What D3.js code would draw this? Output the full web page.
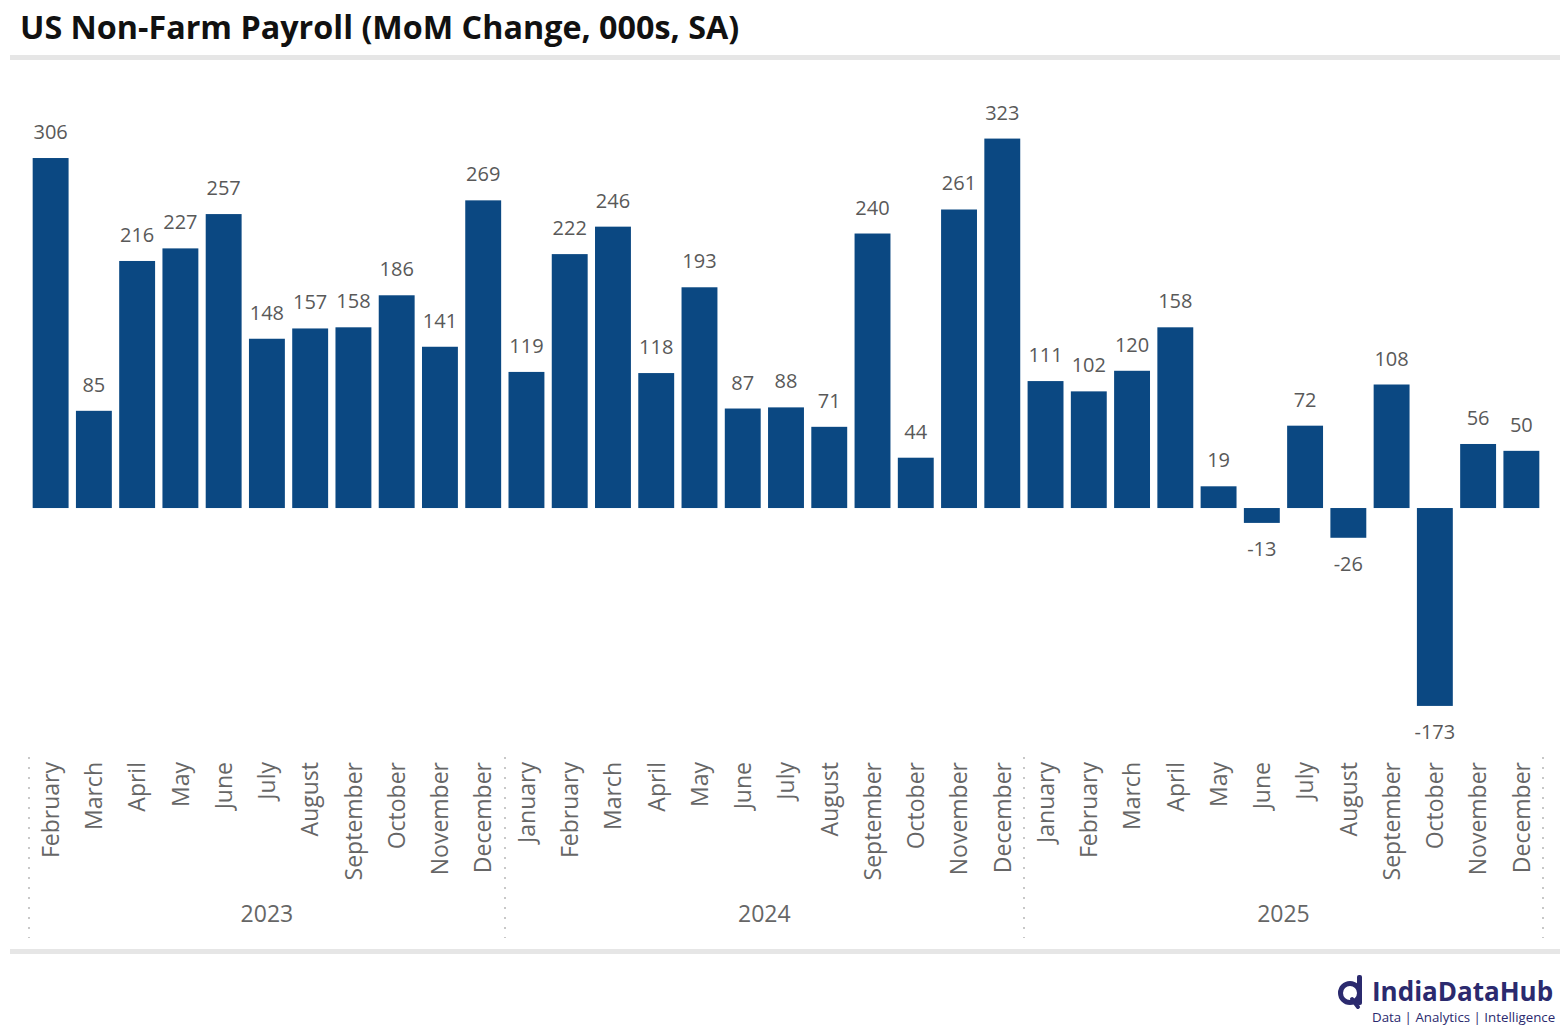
<!DOCTYPE html>
<html>
<head>
<meta charset="utf-8">
<script src="https://cdn.jsdelivr.net/npm/d3@7"></script>
<style>
  body { margin: 0; background: #fff; }
  svg { display: block; font-family: "Open Sans", "Noto Sans", sans-serif; }
</style>
</head>
<body>
<div id="chart"></div>
<script>
// data
const years = ["2023", "2024", "2025"];
const months = [
  "February", "March", "April", "May", "June", "July", "August", "September", "October", "November", "December",
  "January", "February", "March", "April", "May", "June", "July", "August", "September", "October", "November", "December",
  "January", "February", "March", "April", "May", "June", "July", "August", "September", "October", "November", "December"
];
const monthYear = [
  "2023", "2023", "2023", "2023", "2023", "2023", "2023", "2023", "2023", "2023", "2023",
  "2024", "2024", "2024", "2024", "2024", "2024", "2024", "2024", "2024", "2024", "2024", "2024",
  "2025", "2025", "2025", "2025", "2025", "2025", "2025", "2025", "2025", "2025", "2025", "2025"
];
const payroll = [
  306, 85, 216, 227, 257, 148, 157, 158, 186, 141, 269,
  119, 222, 246, 118, 193, 87, 88, 71, 240, 44, 261, 323,
  111, 102, 120, 158, 19, -13, 72, -26, 108, -173, 56, 50
];

const W = 1568, H = 1033;
const barColor = "#0b4882";

const svg = d3.select("#chart").append("svg")
  .attr("width", W)
  .attr("height", H);

// title + grey rules
svg.append("text")
  .attr("x", 20)
  .attr("y", 39)
  .style("font-size", "32.3px")
  .style("font-weight", "700")
  .attr("fill", "#111")
  .text("US Non-Farm Payroll (MoM Change, 000s, SA)");

svg.append("rect").attr("x", 10).attr("y", 55).attr("width", 1550).attr("height", 5).attr("fill", "#e6e6e6");
svg.append("rect").attr("x", 10).attr("y", 949).attr("width", 1550).attr("height", 5).attr("fill", "#e6e6e6");

// scales
const idx = d3.range(payroll.length);
const x = d3.scaleBand()
  .domain(idx)
  .range([29, 1543])
  .paddingInner(0.17)
  .paddingOuter(0.085);

const y = d3.scaleLinear()
  .domain([-200, 350])
  .range([736.8, 107.7]);

// bars
svg.append("g").selectAll("rect")
  .data(idx)
  .join("rect")
    .attr("x", i => x(i))
    .attr("width", x.bandwidth())
    .attr("y", i => y(Math.max(0, payroll[i])))
    .attr("height", i => Math.abs(y(payroll[i]) - y(0)))
    .attr("fill", barColor);

// value labels
svg.append("g").selectAll("text")
  .data(idx)
  .join("text")
    .attr("x", i => x(i) + x.bandwidth() / 2)
    .attr("y", i => payroll[i] >= 0 ? y(payroll[i]) - 19 : y(payroll[i]) + 33)
    .attr("text-anchor", "middle")
    .attr("fill", "#595959")
    .style("font-size", "20px")
    .text(i => payroll[i]);

// month labels (rotated)
svg.append("g").selectAll("text")
  .data(idx)
  .join("text")
    .attr("transform", i => `translate(${x(i) + x.bandwidth() / 2},762) rotate(-90)`)
    .attr("text-anchor", "end")
    .attr("dy", "0.36em")
    .attr("fill", "#666")
    .style("font-size", "23px")
    .text(i => months[i]);

// year groups: dotted separators + labels
const bounds = [];
years.forEach(yr => {
  const members = idx.filter(i => monthYear[i] === yr);
  const x0 = x(members[0]) - x.step() * x.paddingInner() / 2;
  const x1 = x(members[members.length - 1]) + x.bandwidth() + x.step() * x.paddingInner() / 2;
  bounds.push(x0, x1);
  svg.append("text")
    .attr("x", (x0 + x1) / 2)
    .attr("y", 922)
    .attr("text-anchor", "middle")
    .attr("fill", "#666")
    .style("font-size", "23px")
    .text(yr);
});

Array.from(new Set(bounds.map(b => Math.round(b)))).forEach(bx => {
  svg.append("line")
    .attr("x1", bx).attr("x2", bx)
    .attr("y1", 757).attr("y2", 938)
    .attr("stroke", "#c8c8c8")
    .attr("stroke-width", 2)
    .attr("stroke-dasharray", "2,8");
});

// logo
const logo = svg.append("g").attr("transform", "translate(1336,975)");
logo.append("circle")
  .attr("cx", 14).attr("cy", 18).attr("r", 9.5)
  .attr("fill", "none").attr("stroke", "#2b2a6e").attr("stroke-width", 5);
logo.append("rect")
  .attr("x", 21).attr("y", 0).attr("width", 5).attr("height", 30).attr("rx", 2)
  .attr("fill", "#2b2a6e");
logo.append("line")
  .attr("x1", 16).attr("y1", 24).attr("x2", 22).attr("y2", 32)
  .attr("stroke", "#2b2a6e").attr("stroke-width", 4).attr("stroke-linecap", "round");
logo.append("text")
  .attr("x", 36).attr("y", 26)
  .attr("fill", "#2b2a6e")
  .style("font-size", "26px")
  .style("font-weight", "700")
  .text("IndiaDataHub");
logo.append("text")
  .attr("x", 36).attr("y", 47)
  .attr("fill", "#2b2a6e")
  .style("font-size", "13.3px")
  .text("Data | Analytics | Intelligence");
</script>
</body>
</html>
